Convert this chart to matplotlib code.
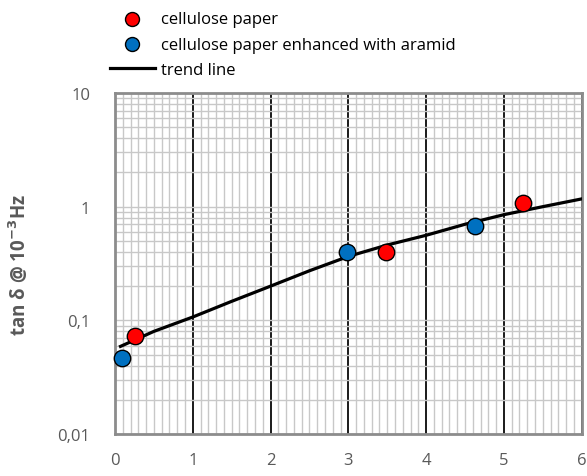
import matplotlib
matplotlib.use("Agg")
import matplotlib.pyplot as plt
from matplotlib.ticker import FixedLocator, FixedFormatter, LogLocator, MultipleLocator, NullFormatter

# data
paper_x = [0.26, 3.48, 5.24]
paper_y = [0.073, 0.40, 1.07]
aramid_x = [0.09, 2.98, 4.63]
aramid_y = [0.047, 0.40, 0.68]
trend_x = [0.07, 0.5, 1.0, 1.5, 2.0, 2.5, 3.0, 3.5, 4.0, 4.5, 5.0, 5.5, 6.0]
trend_y = [0.059, 0.080, 0.107, 0.147, 0.20, 0.273, 0.365, 0.46, 0.56, 0.70, 0.85, 1.0, 1.17]
y_ticks = [0.01, 0.1, 1, 10]
y_ticklabels = ["0,01", "0,1", "1", "10"]

plt.rcParams['font.family'] = ['Open Sans', 'DejaVu Sans']

fig = plt.figure(figsize=(5.87, 4.77), dpi=100)
ax = fig.add_axes([0.196, 0.088, 0.795, 0.715])

ax.set_yscale('log')
ax.set_xlim(0, 6)
ax.set_ylim(0.01, 10)

# grid
ax.xaxis.set_major_locator(MultipleLocator(1))
ax.xaxis.set_minor_locator(MultipleLocator(0.1))
ax.yaxis.set_major_locator(FixedLocator(y_ticks))
ax.yaxis.set_major_formatter(FixedFormatter(y_ticklabels))
ax.yaxis.set_minor_locator(LogLocator(base=10, subs=range(2, 10)))
ax.yaxis.set_minor_formatter(NullFormatter())
ax.grid(True, which='minor', color='#c8c8c8', lw=1.0)
ax.grid(True, which='major', axis='y', color='#c8c8c8', lw=1.0)
ax.grid(True, which='major', axis='x', color='#1a1a1a', lw=1.4)
ax.set_axisbelow(True)

ax.tick_params(which='both', length=0, colors='#595959', labelsize=12)
ax.tick_params(axis='x', pad=13)
ax.tick_params(axis='y', pad=18)
for s in ax.spines.values():
    s.set_color('#8c8c8c')
    s.set_linewidth(2)

ln, = ax.plot(trend_x, trend_y, color='black', lw=2.3, label='trend line', zorder=3)
p1 = ax.scatter(paper_x, paper_y, s=140, color='#ff0000', edgecolor='black', lw=1,
                label='cellulose paper', zorder=4, clip_on=False)
p2 = ax.scatter(aramid_x, aramid_y, s=140, color='#0070c0', edgecolor='black', lw=1,
                label='cellulose paper enhanced with aramid', zorder=4, clip_on=False)

ax.set_ylabel(r'tan δ @ 10$^{\mathbf{-3}}$Hz', fontsize=13.5, fontweight='bold',
              color='#595959')
ax.yaxis.set_label_coords(-0.18, 0.5)

fig.legend(handles=[p1, p2, ln], loc='upper left', bbox_to_anchor=(0.176, 0.988),
           frameon=False, fontsize=12, handlelength=2.7, labelspacing=0.55,
           handletextpad=0.35, borderaxespad=0, markerscale=0.85)

fig.savefig('out.png', dpi=100)
